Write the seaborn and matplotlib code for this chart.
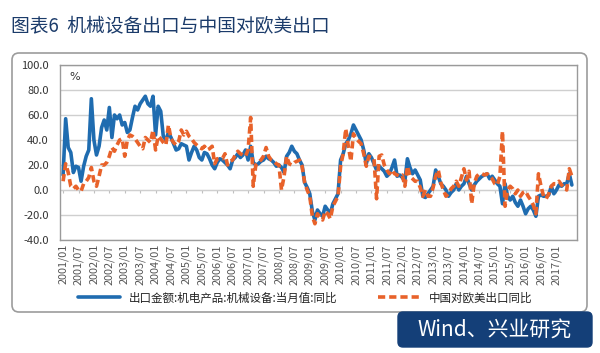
import numpy as np
import pandas as pd
import matplotlib
matplotlib.use("Agg")
import matplotlib.pyplot as plt
from matplotlib.patches import FancyBboxPatch
from matplotlib.transforms import IdentityTransform
import seaborn as sns

# Monthly series, 2001/01 - 2017/07 (yoy %)
months = pd.period_range("2001-01", "2017-07", freq="M")
machinery = [
    12, 57, 34, 30, 14, 19, 18, 7, 19, 27, 32, 73,
    40, 28, 35, 50, 56, 48, 66, 42, 60, 57, 60, 52,
    54, 46, 48, 58, 67, 64, 69, 72, 75, 69, 67, 75,
    44, 67, 63, 43, 40, 46, 42, 37, 32, 33, 37, 36,
    35, 24, 30, 35, 32, 26, 24, 30, 29, 25, 20, 17,
    22, 25, 24, 22, 20, 17, 24, 26, 29, 26, 28, 32,
    24, 35, 22, 20, 21, 23, 24, 27, 25, 24, 22, 19,
    20, 18, 14, 27, 30, 35, 31, 29, 24, 20, 6, 2,
    -3, -17, -24, -16, -19, -21, -13, -16, -19, -11, -7, -3,
    24, 29, 37, 40, 45, 52, 48, 44, 40, 32, 21, 29,
    26, 21, 16, 19, 17, 15, 11, 13, 18, 24, 11, 12,
    10, 7, 25, 18, 13, 16, 12, 8, -5, -6, -3, 0,
    3, 16, 11, 5, 3, 0, -5, -2, 0, 5, 0, 3,
    5, 11, 5, 0, 4, 7, 9, 11, 12, 13, 9, 11,
    8, 5, 3, -11, 5, -5, -8, -5, -10, -13, -8, -13,
    -19, -15, -13, -16, -21, -5, -4, -5, -5, -4, 3, -3,
    0, 4, 3, 5, 5, 13, 4,
]
eu_us = [
    7, 21, 14, 3, 1, 3, 0, -1, 5, 7, 10, 18,
    7, 3, 11, 20, 20, 22, 27, 34, 31, 36, 40, 41,
    27, 40, 44, 43, 41, 38, 35, 33, 42, 40, 38, 48,
    32, 43, 41, 38, 36, 52, 41, 38, 36, 39, 48, 44,
    47, 43, 41, 38, 36, 34, 33, 35, 32, 33, 35, 21,
    25, 25, 25, 29, 20, 23, 24, 28, 31, 29, 28, 27,
    32, 58, 3, 20, 22, 24, 27, 34, 27, 24, 23, 21,
    20, 0, 11, 27, 21, 20, 22, 23, 24, 19, 6, 0,
    -5, -21, -27, -19, -22, -24, -17, -19, -23, -13, -9, -5,
    19, 29, 49, 35, 23, 45, 41, 39, 37, 29, 19, 27,
    26, 25, -7, 27, 28, 20, 16, 13, 16, 13, 12, 11,
    12, 3, 19, 11, 9, 7, 7, 2, -5, 0, -5, -5,
    2, 11, 16, 6, 0, -5, -3, 1, 3, 7, 3, 10,
    17, 8, 15, -11, 5, 11, 13, 13, 12, 13, 11, 9,
    5, 4, 11, 47, -13, 0, 3, 1, -3, 0, -5, -2,
    -1, -5, -8, -12, -19, 13, 3, -5, -7, -3, 3, 5,
    5, 7, 4, 2, 0, 17, 11,
]
label_machinery = "出口金额:机电产品:机械设备:当月值:同比"
label_eu_us = "中国对欧美出口同比"
title = "图表6  机械设备出口与中国对欧美出口"
source = "Wind、兴业研究"
y_ticks = [-40, -20, 0, 20, 40, 60, 80, 100]
last_label = pd.Period("2017-01", freq="M")

idx = np.arange(len(months))
tick_pos = [i for i, p in enumerate(months) if p.month in (1, 7) and p <= last_label]
tick_labels = [months[i].strftime("%Y/%m") for i in tick_pos]

BLUE = "#1f6cb0"
ORANGE = "#e8622a"
NAVY = "#143f78"

sns.set_style("white")
plt.rcParams["font.family"] = ["Noto Sans CJK SC", "DejaVu Sans"]

W, H = 600, 353
fig = plt.figure(figsize=(W / 100, H / 100), dpi=100)
ax = fig.add_axes([60 / W, 1 - 240 / H, 517 / W, 175 / H])
ax.set_zorder(3)


def px_box(x0, y0, x1, y1, **kw):
    """Rounded box in pixel coords measured from the top-left corner."""
    return FancyBboxPatch((x0, H - y1), x1 - x0, y1 - y0,
                          transform=IdentityTransform(), **kw)


# outer panel and source badge
fig.patches.append(px_box(12, 53, 587, 312,
                          boxstyle="round,pad=0,rounding_size=7",
                          facecolor="white", edgecolor="#9c9c9c", lw=1.2, zorder=-2))
fig.patches.append(px_box(398, 312, 592, 347,
                          boxstyle="round,pad=0,rounding_size=5",
                          facecolor=NAVY, edgecolor=NAVY, zorder=-1))

sns.lineplot(x=idx, y=machinery, ax=ax, color=BLUE, lw=2.6, label=label_machinery)
sns.lineplot(x=idx, y=eu_us, ax=ax, color=ORANGE, lw=2.6, label=label_eu_us)
ax.lines[1].set_dashes((2, 1.1))

ax.set_xlim(-1.2, 200)
ax.set_ylim(-40, 100)
ax.set_yticks(y_ticks)
ax.set_yticklabels([f"{v:.1f}" for v in y_ticks])
ax.set_xticks(tick_pos)
ax.set_xticklabels(tick_labels, rotation=90)
ax.tick_params(axis="y", length=0, pad=8, labelsize=8, labelcolor="#333333")
ax.tick_params(axis="x", length=0, pad=3, labelsize=7.8, labelcolor="#555555")
ax.yaxis.grid(True, color="#cfcfcf", lw=1)
ax.set_axisbelow(True)
for s in ax.spines.values():
    s.set_color("#9a9a9a")
    s.set_linewidth(1)

# category ticks along the zero line
zero = (0 - (-40)) / 140
sec = ax.secondary_xaxis(zero)
sec.set_xticks(tick_pos)
sec.set_xticklabels([])
sec.tick_params(axis="x", length=2.5, color="#c0c0c0", direction="out")
for s in sec.spines.values():
    s.set_color("#cfcfcf")

ax.text(0.018, 0.93, "%", transform=ax.transAxes, fontsize=8, color="#333333",
        va="center", family="DejaVu Sans")

handles, labels = ax.get_legend_handles_labels()
ax.get_legend().remove()
fig.legend(handles, labels, loc="center", bbox_to_anchor=(305 / W, 1 - 298 / H),
           ncol=2, frameon=False, fontsize=8.3, handlelength=3.6,
           columnspacing=3.5, labelcolor="#222222")

fig.text(11 / W, 1 - 27 / H, title, fontsize=13.5, color="#1b3b6a",
         va="center", ha="left")
fig.text(495 / W, 1 - 330 / H, source, fontsize=15, color="white",
         va="center", ha="center")

fig.savefig("out.png", dpi=100, facecolor="white")
